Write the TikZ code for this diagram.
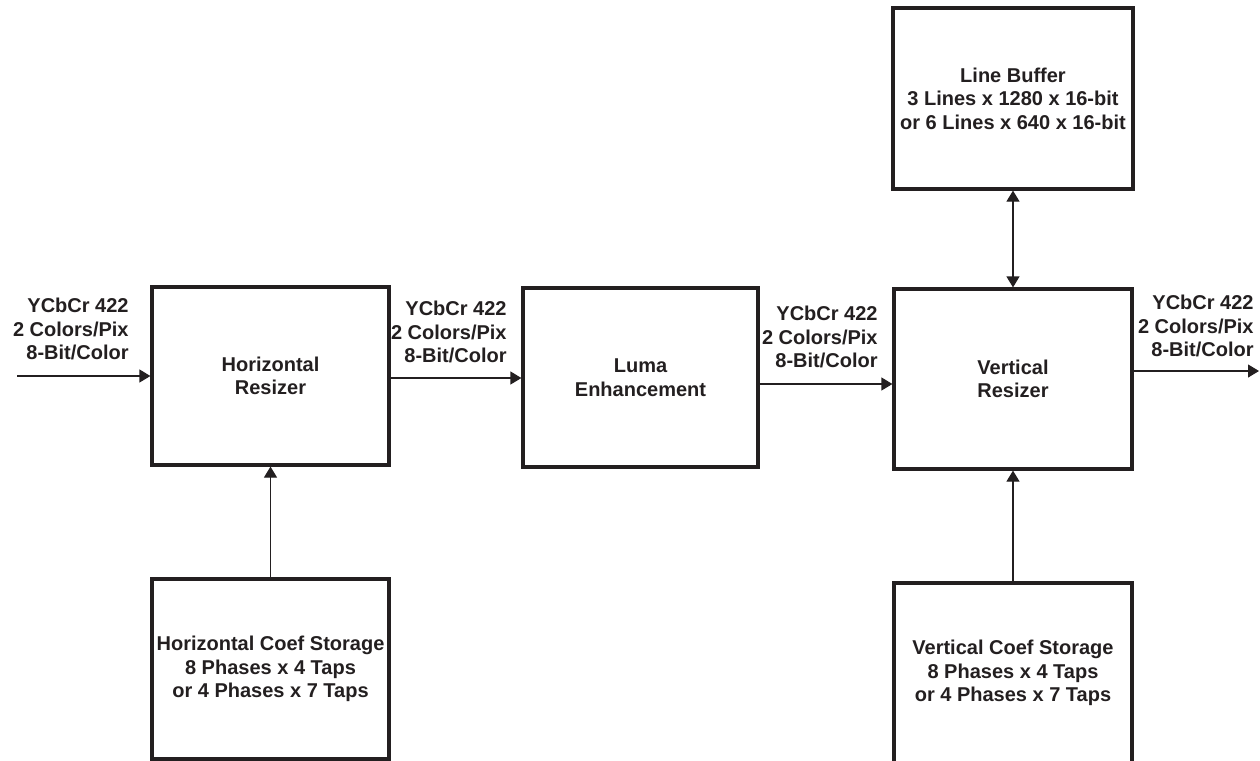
\documentclass[tikz,border=0pt]{standalone}
\usepackage{fontspec}
\setmainfont{Liberation Sans}
\usetikzlibrary{arrows.meta}
\definecolor{ink}{RGB}{35,31,32}

\begin{document}
\begin{tikzpicture}[x=0.5pt,y=-0.5pt,
        font=\fontsize{10}{11.75}\selectfont\bfseries,text=ink,
        block/.style={draw=ink,line width=1.6pt,align=center,inner sep=0pt},
        flow/.style={draw=ink,line width=0.6pt,-{Triangle[length=5.5pt,width=6.5pt]}},
        fmt/.style={align=right,anchor=east,inner sep=0pt}]
        % Rahmen
        \clip (0,0) rectangle (1260,761);
        % Bloecke
        \node[block,minimum width=118.5pt,minimum height=89pt] (hres) at (270.5,376) {Horizontal\\Resizer};
        \node[block,minimum width=118.5pt,minimum height=90pt] (hcoef) at (270.5,669) {Horizontal Coef Storage\\8 Phases x 4 Taps\\or 4 Phases x 7 Taps};
        \node[block,minimum width=117.5pt,minimum height=89.5pt] (luma) at (640.5,377.5) {Luma\\Enhancement};
        \node[block,minimum width=119pt,minimum height=90pt] (vres) at (1013,379) {Vertical\\Resizer};
        \node[block,minimum width=120pt,minimum height=90.5pt] (lbuf) at (1013,98.5) {Line Buffer\\3 Lines x 1280 x 16-bit\\or 6 Lines x 640 x 16-bit};
        \node[block,minimum width=119pt,minimum height=90pt] (vcoef) at (1013,673) {Vertical Coef Storage\\8 Phases x 4 Taps\\or 4 Phases x 7 Taps};
        % Formate
        \node[fmt] (fin) at (129,329) {YCbCr 422\\2 Colors/Pix\\8-Bit/Color};
        \node[fmt] (fhl) at (507,332) {YCbCr 422\\2 Colors/Pix\\8-Bit/Color};
        \node[fmt] (flv) at (878,337) {YCbCr 422\\2 Colors/Pix\\8-Bit/Color};
        \node[fmt] (fout) at (1254,326) {YCbCr 422\\2 Colors/Pix\\8-Bit/Color};
        % Pfeile
        \coordinate (src) at (17,376);
        \coordinate (snk) at (1259,371);
        \draw[flow] (src) -- (hres.west);
        \draw[flow] (hres.east |- 0,378) -- (luma.west |- 0,378);
        \draw[flow] (luma.east |- 0,384) -- (vres.west |- 0,384);
        \draw[flow] (vres.east |- 0,371) -- (snk);
        \draw[flow] (hcoef.north) -- (hres.south);
        \draw[flow] (vcoef.north) -- (vres.south);
        \draw[flow,{Triangle[length=5.5pt,width=6.5pt]}-{Triangle[length=5.5pt,width=6.5pt]}] (lbuf.south) -- (vres.north);
    \end{tikzpicture}
\end{document}
